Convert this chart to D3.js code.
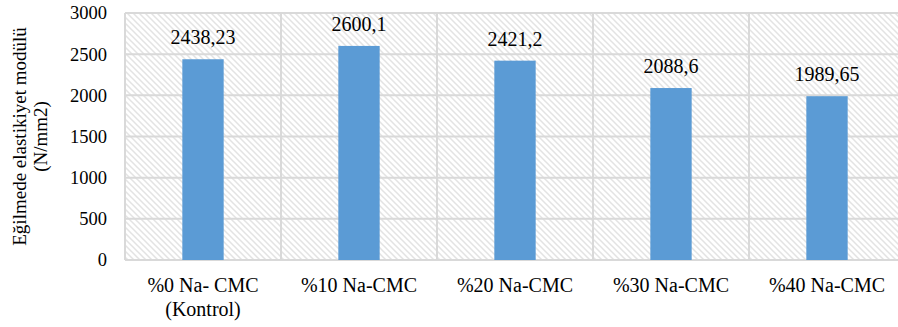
<!DOCTYPE html>
<html>
<head>
<meta charset="utf-8">
<script src="https://cdn.jsdelivr.net/npm/d3@7/dist/d3.min.js"></script>
<style>
  html, body { margin: 0; padding: 0; background: #fff; }
  svg { display: block; }
  text { font-family: "Liberation Serif", "Liberation Sans", Arial, sans-serif; fill: #000; }
</style>
</head>
<body>
<svg id="chart" width="898" height="327"></svg>
<script>
// Flexural modulus of elasticity by Na-CMC content
const categories = ["%0 Na- CMC|(Kontrol)", "%10 Na-CMC", "%20 Na-CMC", "%30 Na-CMC", "%40 Na-CMC"];
const values = [2438.23, 2600.1, 2421.2, 2088.6, 1989.65];
const valueLabels = ["2438,23", "2600,1", "2421,2", "2088,6", "1989,65"];
const yTicks = [0, 500, 1000, 1500, 2000, 2500, 3000];
const yTitle = ["Eğilmede elastikiyet modülü", "(N/mm2)"];

const svg = d3.select("#chart");
const plot = { left: 125, right: 905, top: 13, bottom: 260 };

const x = d3.scaleBand().domain(categories).range([plot.left, plot.right]).padding(0);
const y = d3.scaleLinear().domain([0, 3000]).range([plot.bottom, plot.top]);

// diagonal hatch fill for the plot background
const defs = svg.append("defs");
const pat = defs.append("pattern")
  .attr("id", "hatch")
  .attr("patternUnits", "userSpaceOnUse")
  .attr("width", 6).attr("height", 6);
pat.append("rect").attr("width", 6).attr("height", 6).attr("fill", "#fff");
pat.append("path")
  .attr("d", "M-1,-1 L7,7 M-4,2 L2,8 M4,-2 L8,2")
  .attr("stroke", "#e3e3e3").attr("stroke-width", 1.5);

svg.append("rect")
  .attr("x", plot.left).attr("y", plot.top)
  .attr("width", plot.right - plot.left).attr("height", plot.bottom - plot.top)
  .attr("fill", "url(#hatch)");

// horizontal gridlines
svg.append("g").selectAll("line").data(yTicks).join("line")
  .attr("x1", plot.left).attr("x2", plot.right)
  .attr("y1", d => y(d)).attr("y2", d => y(d))
  .attr("stroke", "#d9d9d9").attr("stroke-width", 2);

// vertical gridlines at category boundaries
const bounds = categories.map(c => x(c)).concat([plot.right]);
svg.append("g").selectAll("line").data(bounds).join("line")
  .attr("x1", d => d).attr("x2", d => d)
  .attr("y1", plot.top).attr("y2", plot.bottom)
  .attr("stroke", "#d9d9d9").attr("stroke-width", 2);

// bars
const barW = x.bandwidth() * 0.265;
svg.append("g").selectAll("rect").data(values).join("rect")
  .attr("x", (d, i) => x(categories[i]) + x.bandwidth() / 2 - barW / 2)
  .attr("y", d => y(d))
  .attr("width", barW)
  .attr("height", d => y(0) - y(d))
  .attr("fill", "#5b9bd5");

// value labels
svg.append("g").selectAll("text").data(values).join("text")
  .attr("x", (d, i) => x(categories[i]) + x.bandwidth() / 2)
  .attr("y", d => y(d) - 15)
  .attr("text-anchor", "middle")
  .style("font-size", "20px")
  .text((d, i) => valueLabels[i]);

// y axis tick labels
const yAxis = d3.axisLeft(y).tickValues(yTicks).tickSize(0).tickPadding(18).tickFormat(d3.format("d"));
const gy = svg.append("g").attr("transform", `translate(${plot.left},0)`).call(yAxis);
gy.attr("font-family", null).attr("font-size", null);
gy.select(".domain").remove();
gy.selectAll("text").attr("fill", "#000").style("font-size", "18.5px");

// x axis category labels
const gx = svg.append("g");
categories.forEach(c => {
  const lines = c.split("|");
  const cx = x(c) + x.bandwidth() / 2;
  const t = gx.append("text").attr("x", cx).attr("y", 292)
    .attr("text-anchor", "middle").style("font-size", "20px");
  lines.forEach((ln, i) => {
    t.append("tspan").attr("x", cx).attr("dy", i === 0 ? 0 : 24).text(ln);
  });
});

// y axis title
const title = svg.append("text")
  .attr("transform", `translate(26,${(plot.top + plot.bottom) / 2}) rotate(-90)`)
  .attr("text-anchor", "middle")
  .style("font-size", "19px");
yTitle.forEach((ln, i) => {
  title.append("tspan").attr("x", 0).attr("dy", i === 0 ? 0 : 21).text(ln);
});
</script>
</body>
</html>
